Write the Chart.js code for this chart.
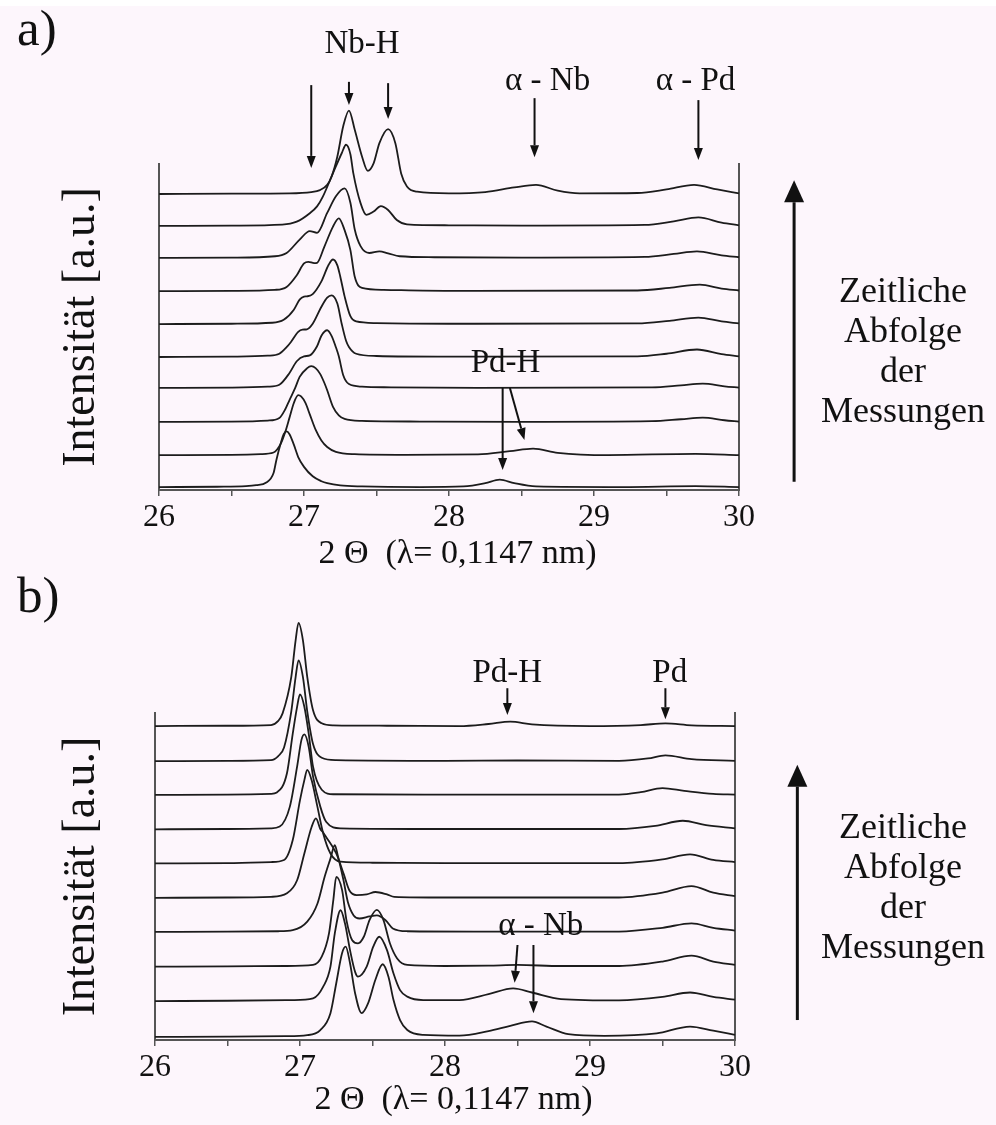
<!DOCTYPE html>
<html>
<head>
<meta charset="utf-8">
<script src="https://cdn.jsdelivr.net/npm/chart.js@4.4.1/dist/chart.umd.min.js"></script>
<style>
  html, body { margin:0; padding:0; }
  body { width:996px; height:1125px; background:#fdf6fc; position:relative; overflow:hidden;
         font-family:"Liberation Serif","Times New Roman",serif; color:#111; }
  .topstrip { position:absolute; left:0; top:0; width:996px; height:6px; background:#fff; }
  .panel { position:absolute; left:0; width:996px; }
  .tag { position:absolute; left:17px; font-size:51px; line-height:50px; }
  .side { position:absolute; left:815px; width:176px; text-align:center; font-size:36px; line-height:40px; }
</style>
</head>
<body>
<div class="topstrip"></div>
<div class="panel" style="top:0;height:580px"><canvas id="chartA"></canvas></div>
<div class="panel" style="top:580px;height:545px"><canvas id="chartB"></canvas></div>
<div class="tag" style="top:3px">a)</div>
<div class="tag" style="top:570px">b)</div>
<div class="side" style="top:270px">Zeitliche<br>Abfolge<br>der<br>Messungen</div>
<div class="side" style="top:806px">Zeitliche<br>Abfolge<br>der<br>Messungen</div>
<script>
/* ---------------------------- Data (2 Theta, intensity above each baseline) ---------------------------- */

// panel a) bottom (first measurement) to top
const a01 = [[26,0],[26.4,0.01],[26.6,0.03],[26.67,0.06],[26.74,0.14],[26.79,0.43],[26.81,0.84],[26.84,1.35],[26.86,1.62],[26.88,1.71],[26.9,1.62],[26.93,1.3],[26.96,0.92],[27.0,0.62],[27.06,0.33],[27.12,0.18],[27.16,0.12],[27.25,0.05],[27.4,0.02],[27.8,0],[28.1,0.02],[28.25,0.12],[28.35,0.23],[28.45,0.12],[28.6,0.02],[29.2,0],[29.7,0.03],[30,0]]
const a02 = [[26,0],[26.5,0.01],[26.7,0.03],[26.79,0.08],[26.84,0.35],[26.87,0.7],[26.9,1.15],[26.93,1.6],[26.96,1.84],[26.98,1.8],[27.01,1.6],[27.04,1.25],[27.08,0.78],[27.12,0.45],[27.16,0.25],[27.22,0.1],[27.35,0.03],[27.7,0.01],[28.2,0.02],[28.42,0.12],[28.58,0.2],[28.75,0.07],[29.1,0],[29.7,0.04],[30,0]]
const a03 = [[26,0],[26.5,0.01],[26.75,0.04],[26.83,0.12],[26.87,0.38],[26.9,0.67],[26.94,1.05],[26.97,1.38],[27.02,1.64],[27.05,1.71],[27.08,1.65],[27.11,1.48],[27.14,1.2],[27.16,0.97],[27.2,0.46],[27.24,0.2],[27.28,0.09],[27.4,0.03],[27.8,0.01],[28.5,0],[29.4,0.02],[29.6,0.08],[29.75,0.13],[29.9,0.05],[30,0.01]]
const a04 = [[26,0],[26.5,0.01],[26.75,0.04],[26.83,0.1],[26.9,0.46],[26.95,0.82],[27.0,0.97],[27.04,1.0],[27.09,1.28],[27.12,1.6],[27.16,1.77],[27.19,1.6],[27.22,1.25],[27.24,0.97],[27.27,0.4],[27.31,0.12],[27.4,0.04],[27.6,0.02],[28.2,0],[29.4,0.02],[29.6,0.08],[29.75,0.13],[29.9,0.05],[30,0.01]]
const a05 = [[26,0],[26.5,0.01],[26.75,0.04],[26.83,0.1],[26.88,0.3],[26.91,0.46],[26.96,0.77],[26.99,0.84],[27.02,0.85],[27.06,1.02],[27.12,1.54],[27.16,1.82],[27.19,1.89],[27.23,1.64],[27.26,1.02],[27.29,0.5],[27.31,0.31],[27.36,0.1],[27.5,0.03],[28,0.01],[29.3,0.02],[29.5,0.1],[29.71,0.23],[29.88,0.09],[30,0.02]]
const a06 = [[26,0],[26.5,0.01],[26.78,0.04],[26.86,0.13],[26.93,0.44],[26.97,0.75],[27.0,0.84],[27.02,0.85],[27.06,0.92],[27.12,1.31],[27.17,1.82],[27.2,1.98],[27.23,1.8],[27.25,1.46],[27.28,0.85],[27.32,0.24],[27.36,0.08],[27.5,0.03],[28,0.01],[29.3,0.02],[29.52,0.1],[29.72,0.2],[29.88,0.08],[30,0.02]]
const a07 = [[26,0],[26.5,0.01],[26.8,0.04],[26.88,0.13],[26.95,0.49],[27.0,0.85],[27.03,0.9],[27.07,0.86],[27.09,0.87],[27.14,1.36],[27.2,1.98],[27.24,2.23],[27.28,1.87],[27.32,1.26],[27.35,0.44],[27.4,0.1],[27.55,0.04],[28,0.01],[29.3,0.02],[29.52,0.1],[29.73,0.2],[29.88,0.08],[30,0.02]]
const a08 = [[26,0],[26.5,0.01],[26.8,0.05],[26.88,0.15],[26.97,0.56],[27.04,0.82],[27.09,0.77],[27.16,1.38],[27.22,1.89],[27.28,2.13],[27.32,1.69],[27.35,0.87],[27.39,0.36],[27.45,0.15],[27.52,0.2],[27.58,0.14],[27.66,0.05],[27.9,0.02],[28.5,0.01],[29.35,0.03],[29.55,0.12],[29.71,0.2],[29.88,0.08],[30,0.02]]
const a09 = [[26,0],[26.5,0.01],[26.85,0.04],[26.95,0.13],[27.04,0.39],[27.09,0.6],[27.13,0.9],[27.2,1.62],[27.26,2.23],[27.29,2.49],[27.32,2.2],[27.34,1.62],[27.39,0.7],[27.43,0.34],[27.48,0.44],[27.53,0.61],[27.58,0.49],[27.64,0.18],[27.71,0.05],[28,0.02],[28.5,0.01],[29.35,0.03],[29.55,0.14],[29.72,0.26],[29.88,0.1],[30,0.02]]
const a10 = [[26,0],[26.5,0.01],[26.9,0.02],[27.05,0.06],[27.11,0.12],[27.16,0.28],[27.19,0.53],[27.23,1.15],[27.27,2.07],[27.31,2.56],[27.35,1.97],[27.4,1.15],[27.44,0.71],[27.48,0.94],[27.52,1.56],[27.58,1.99],[27.63,1.56],[27.67,0.63],[27.71,0.23],[27.78,0.07],[28.0,0.02],[28.25,0.06],[28.45,0.2],[28.6,0.28],[28.75,0.1],[28.9,0.02],[29.3,0.03],[29.5,0.14],[29.69,0.28],[29.85,0.14],[30,0.02]]
const baseA = [0.09, 1.07, 2.09, 3.13, 4.08, 5.09, 6.10, 7.12, 8.10, 9.08]

// panel b) bottom (first measurement) to top
const b01 = [[26,0],[26.5,0.01],[26.9,0.02],[27.05,0.05],[27.14,0.2],[27.21,0.69],[27.25,1.56],[27.29,2.43],[27.315,2.62],[27.345,2.14],[27.38,1.27],[27.425,0.69],[27.47,0.98],[27.52,1.66],[27.57,2.11],[27.61,1.75],[27.645,1.07],[27.69,0.49],[27.74,0.2],[27.85,0.06],[28.1,0.04],[28.3,0.17],[28.45,0.32],[28.6,0.45],[28.7,0.3],[28.85,0.08],[29.1,0.03],[29.46,0.1],[29.69,0.3],[29.85,0.18],[30,0.06]]
const b02 = [[26,0],[26.5,0.01],[26.95,0.03],[27.09,0.08],[27.16,0.42],[27.21,1.0],[27.24,1.97],[27.28,2.64],[27.31,2.26],[27.345,1.48],[27.38,0.85],[27.4,0.71],[27.46,1.0],[27.505,1.58],[27.547,1.87],[27.6,1.48],[27.645,0.8],[27.69,0.32],[27.74,0.13],[27.85,0.03],[28.1,0.03],[28.3,0.2],[28.47,0.37],[28.6,0.25],[28.8,0.06],[29.2,0.02],[29.5,0.12],[29.69,0.25],[29.85,0.12],[30,0.04]]
const b03 = [[26,0],[26.5,0.01],[26.9,0.02],[27.09,0.05],[27.15,0.29],[27.2,0.97],[27.23,1.94],[27.25,2.61],[27.29,2.23],[27.32,1.36],[27.36,0.77],[27.4,0.68],[27.44,0.87],[27.48,1.36],[27.53,1.65],[27.575,1.36],[27.62,0.68],[27.67,0.24],[27.74,0.05],[28.0,0.02],[28.3,0.03],[28.5,0.05],[28.8,0.02],[29.2,0.02],[29.5,0.15],[29.7,0.32],[29.85,0.15],[30,0.05]]
const b04 = [[26,0],[26.5,0.01],[26.85,0.02],[26.95,0.05],[27.05,0.3],[27.12,0.82],[27.17,1.6],[27.21,2.13],[27.24,2.52],[27.26,2.23],[27.3,1.5],[27.33,0.87],[27.37,0.48],[27.41,0.39],[27.48,0.45],[27.53,0.48],[27.59,0.34],[27.64,0.1],[27.74,0.02],[28.2,0.01],[29.2,0.01],[29.5,0.12],[29.7,0.25],[29.85,0.12],[30,0.04]]
const b05 = [[26,0],[26.5,0.01],[26.8,0.03],[26.91,0.13],[26.98,0.51],[27.03,1.29],[27.08,2.06],[27.11,2.31],[27.14,2.0],[27.16,1.9],[27.18,1.77],[27.25,1.29],[27.3,0.71],[27.34,0.22],[27.39,0.08],[27.46,0.1],[27.52,0.17],[27.6,0.1],[27.65,0.03],[28,0.01],[29.2,0.01],[29.5,0.15],[29.7,0.34],[29.85,0.15],[30,0.05]]
const b06 = [[26,0],[26.5,0.01],[26.8,0.04],[26.89,0.1],[26.95,0.68],[27.0,1.84],[27.03,2.42],[27.05,2.72],[27.08,2.42],[27.12,1.65],[27.16,0.87],[27.21,0.29],[27.28,0.05],[27.5,0.02],[28,0.01],[29.2,0.01],[29.5,0.12],[29.69,0.26],[29.85,0.1],[30,0.04]]
const b07 = [[26,0],[26.5,0.01],[26.8,0.03],[26.86,0.08],[26.93,0.66],[26.98,1.82],[27.01,2.6],[27.03,2.76],[27.06,2.4],[27.09,1.53],[27.14,0.66],[27.18,0.22],[27.28,0.03],[28,0.01],[29.2,0.01],[29.45,0.1],[29.64,0.25],[29.8,0.12],[30,0.03]]
const b08 = [[26,0],[26.5,0.01],[26.8,0.03],[26.84,0.07],[26.91,0.63],[26.95,1.78],[26.98,2.56],[27.0,2.92],[27.03,2.56],[27.06,1.78],[27.09,0.82],[27.15,0.15],[27.23,0.02],[28,0.01],[29.2,0.01],[29.35,0.08],[29.5,0.2],[29.65,0.12],[29.85,0.03],[30,0.01]]
const b09 = [[26,0],[26.5,0.01],[26.8,0.03],[26.85,0.15],[26.89,0.4],[26.94,1.45],[26.97,2.45],[26.99,2.93],[27.02,2.45],[27.05,1.45],[27.09,0.5],[27.15,0.1],[27.25,0.03],[28,0.01],[28.5,0.02],[29.2,0.01],[29.4,0.08],[29.52,0.17],[29.7,0.06],[30,0.01]]
const b10 = [[26,0],[26.5,0.01],[26.8,0.03],[26.85,0.15],[26.88,0.37],[26.94,1.43],[26.97,2.5],[26.99,3.0],[27.02,2.5],[27.05,1.43],[27.09,0.46],[27.15,0.08],[27.23,0.02],[27.6,0.01],[28.1,0],[28.3,0.06],[28.45,0.13],[28.6,0.05],[29.0,0],[29.35,0.03],[29.52,0.08],[29.7,0.02],[30,0]]
const baseB = [0.09, 1.13, 2.13, 3.14, 4.13, 5.13, 6.12, 7.12, 8.10, 9.12]

const xTicks = [26, 27, 28, 29, 30]

// peak labels [text, 2theta, y] and arrows [x1, y1, x2, y2, size]
const labelsA = [['Nb-H', 27.40, 13.40], ['\u03b1 - Nb', 28.68, 12.27], ['\u03b1 - Pd', 29.70, 12.27], ['Pd-H', 28.39, 3.62]]
const arrowsA = [[27.05, 12.42, 27.05, 9.88, 1], [27.31, 12.52, 27.31, 11.81, 1], [27.58, 12.48, 27.58, 11.38, 1],
                 [28.59, 12.02, 28.59, 10.21, 1], [29.72, 11.96, 29.72, 10.12, 1],
                 [28.37, 3.13, 28.37, 0.61, 1], [28.42, 3.13, 28.52, 1.53, 1], [30.38, 0.25, 30.38, 9.5, 2]]
const labelsB = [['Pd-H', 28.43, 10.40], ['Pd', 29.55, 10.40], ['\u03b1 - Nb', 28.66, 3.05]]
const arrowsB = [[28.43, 10.22, 28.43, 9.44, 1], [29.52, 10.22, 29.52, 9.32, 1],
                 [28.50, 2.76, 28.48, 1.66, 1], [28.61, 2.76, 28.61, 0.78, 1], [30.43, 0.58, 30.43, 8.0, 2]]

/* ---------------------------- Helpers --------------------------------------------- */

const FONT = '"Liberation Serif", "Times New Roman", serif'

const makeDatasets = (curves, bases) => curves.map((pts, i) => ({
    data: pts.map(p => ({x: p[0], y: bases[i] + p[1]})),
    borderColor: '#1c1c1c',
    borderWidth: 1.8,
    pointRadius: 0,
    fill: false,
    cubicInterpolationMode: 'monotone',
    clip: false
}))

const drawArrow = (ctx, x1, y1, x2, y2, size) => {
    const head = size === 2 ? 22 : 12
    const half = size === 2 ? 10 : 4.5
    const ang = Math.atan2(y2 - y1, x2 - x1)
    const bx = x2 - head * Math.cos(ang), by = y2 - head * Math.sin(ang)
    ctx.lineWidth = size === 2 ? 3 : 2
    ctx.beginPath()
    ctx.moveTo(x1, y1)
    ctx.lineTo(bx, by)
    ctx.stroke()
    ctx.beginPath()
    ctx.moveTo(x2, y2)
    ctx.lineTo(bx + half * Math.sin(ang), by - half * Math.cos(ang))
    ctx.lineTo(bx - half * Math.sin(ang), by + half * Math.cos(ang))
    ctx.closePath()
    ctx.fill()
}

const annotate = {
    id: 'annotate',
    afterDraw(chart, args, opts) {
        const {ctx} = chart
        const xs = chart.scales.x, ys = chart.scales.y
        ctx.save()
        ctx.fillStyle = '#111'
        ctx.strokeStyle = '#111'
        ctx.font = `33px ${FONT}`
        ctx.textAlign = 'center'
        ctx.textBaseline = 'alphabetic'
        opts.labels.forEach(l => ctx.fillText(l[0], xs.getPixelForValue(l[1]), ys.getPixelForValue(l[2])))
        opts.arrows.forEach(a => drawArrow(ctx, xs.getPixelForValue(a[0]), ys.getPixelForValue(a[1]),
                                           xs.getPixelForValue(a[2]), ys.getPixelForValue(a[3]), a[4]))
        ctx.restore()
    }
}

/* ---------------------------- Chart builder --------------------------------------------- */

const build = (canvasId, curves, bases, cfg) => {
    const config = {
        type: 'line',
        data: {datasets: makeDatasets(curves, bases)},
        options: {
            responsive: true,
            maintainAspectRatio: false,
            animation: false,
            events: [],
            layout: {padding: {top: cfg.top, left: 0, right: 0, bottom: 0}},
            plugins: {
                legend: {display: false},
                tooltip: {enabled: false},
                annotate: {labels: cfg.labels, arrows: cfg.arrows}
            },
            scales: {
                x: {
                    type: 'linear', min: 26, max: 30,
                    afterFit: s => { s.height = cfg.xHeight },
                    ticks: {
                        stepSize: 0.5, autoSkip: false, maxRotation: 0, padding: 2, color: '#111',
                        font: {family: FONT, size: 32},
                        callback: v => xTicks.includes(v) ? String(v) : ''
                    },
                    grid: {drawOnChartArea: false, drawTicks: true, tickLength: 6, color: '#555', lineWidth: 1.5},
                    border: {display: true, color: '#555', width: 2},
                    title: {display: true, text: '  2 \u0398  (\u03bb= 0,1147 nm)', color: '#111',
                            font: {family: FONT, size: 34}, padding: {top: 0, bottom: cfg.titlePad}}
                },
                y: {
                    type: 'linear', position: 'left', min: 0, max: cfg.yMax,
                    afterFit: s => { s.width = cfg.left },
                    ticks: {display: false},
                    grid: {display: false},
                    border: {display: true, color: '#555', width: 2},
                    title: {display: true, text: 'Intensität [a.u.]', color: '#111',
                            font: {family: FONT, size: 46}, padding: {top: 54, bottom: 0}}
                },
                y2: {
                    type: 'linear', position: 'right', min: 0, max: cfg.yMax,
                    afterFit: s => { s.width = 996 - cfg.right },
                    ticks: {display: false},
                    grid: {display: false},
                    border: {display: true, color: '#555', width: 2}
                }
            }
        },
        plugins: [annotate]
    }
    return new Chart(document.getElementById(canvasId), config)
}

const chartA = build('chartA', [a01, a02, a03, a04, a05, a06, a07, a08, a09, a10], baseA,
    {top: 164, xHeight: 90, left: 159, right: 739, yMax: 10, titlePad: 6, labels: labelsA, arrows: arrowsA})

const chartB = build('chartB', [b01, b02, b03, b04, b05, b06, b07, b08, b09, b10], baseB,
    {top: 133, xHeight: 85, left: 155, right: 735, yMax: 9.5, titlePad: 5, labels: labelsB, arrows: arrowsB})
</script>
</body>
</html>
